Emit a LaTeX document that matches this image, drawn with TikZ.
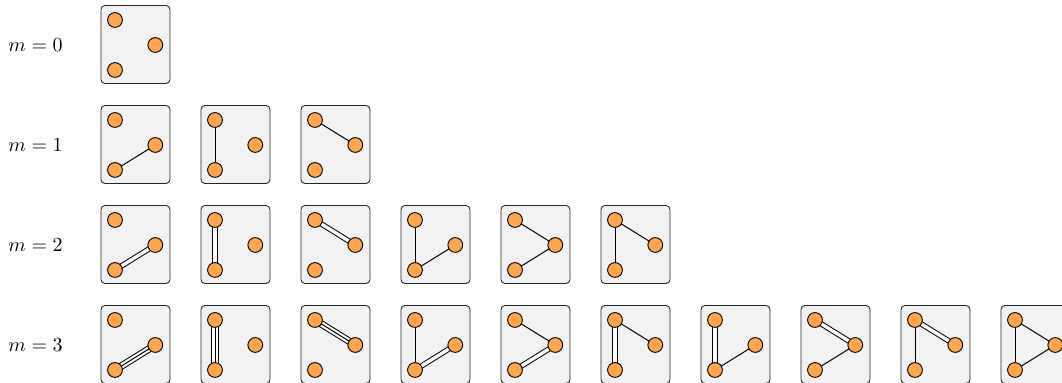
\documentclass[tikz,border=0pt]{standalone}
\definecolor{boxfill}{RGB}{242,242,242}
\definecolor{vtxfill}{RGB}{255,166,77}
\pgfdeclarelayer{boxes}
\pgfdeclarelayer{edges}
\pgfsetlayers{boxes,edges,main}
\tikzset{
  gbox/.style={draw=black!85, fill=boxfill, line width=0.45pt, rounded corners=2pt,
    minimum width=34.5pt, minimum height=39pt, inner sep=0pt},
  vtx/.style={circle, draw=black, fill=vtxfill, line width=0.45pt,
    minimum size=7.4pt, inner sep=0pt},
  eone/.style={draw=black, line width=0.5pt},
  etwo/.style={draw=black, line width=0.5pt, double=white, double distance=1.7pt},
  ethreeo/.style={draw=black, line width=3.6pt},
  ethreew/.style={draw=white, line width=2.6pt},
  lbl/.style={anchor=west, inner sep=0pt}
}
\newcommand\gedge[3]{%
  \ifcase#1\relax
  \or \draw[eone] (#2.center) -- (#3.center);
  \or \draw[etwo] (#2.center) -- (#3.center);
  \or \draw[ethreeo] (#2.center) -- (#3.center);
      \draw[ethreew] (#2.center) -- (#3.center);
      \draw[eone] (#2.center) -- (#3.center);
  \fi}
\newcommand\gboxat[5]{%
  \begin{scope}[shift={(100*#2,100*#1)}]
    \begin{pgfonlayer}{boxes}
      \node[gbox] (box#1#2) at (135.5,44.5) {};
    \end{pgfonlayer}
    \node[vtx] (A#1#2) at (115,20) {};
    \node[vtx] (B#1#2) at (155.3,45) {};
    \node[vtx] (C#1#2) at (115,70) {};
    \begin{pgfonlayer}{edges}
      \gedge{#3}{A#1#2}{B#1#2}
      \gedge{#4}{A#1#2}{C#1#2}
      \gedge{#5}{B#1#2}{C#1#2}
    \end{pgfonlayer}
  \end{scope}}
\begin{document}
\begin{tikzpicture}[x=0.5pt, y=-0.5pt]
\useasboundingbox (0,0) rectangle (1062,383);
\node[lbl] (m0) at (8,45) {$m=0$};
\node[lbl] (m1) at (8,145) {$m=1$};
\node[lbl] (m2) at (8,245) {$m=2$};
\node[lbl] (m3) at (8,345) {$m=3$};
% row 0
\gboxat{0}{0}{0}{0}{0}
% row 1
\gboxat{1}{0}{0}{0}{1}
\gboxat{1}{1}{0}{1}{0}
\gboxat{1}{2}{1}{0}{0}
% row 2
\gboxat{2}{0}{0}{0}{2}
\gboxat{2}{1}{0}{2}{0}
\gboxat{2}{2}{2}{0}{0}
\gboxat{2}{3}{0}{1}{1}
\gboxat{2}{4}{1}{0}{1}
\gboxat{2}{5}{1}{1}{0}
% row 3
\gboxat{3}{0}{0}{0}{3}
\gboxat{3}{1}{0}{3}{0}
\gboxat{3}{2}{3}{0}{0}
\gboxat{3}{3}{0}{1}{2}
\gboxat{3}{4}{1}{0}{2}
\gboxat{3}{5}{1}{2}{0}
\gboxat{3}{6}{0}{2}{1}
\gboxat{3}{7}{2}{0}{1}
\gboxat{3}{8}{2}{1}{0}
\gboxat{3}{9}{1}{1}{1}
\end{tikzpicture}
\end{document}
